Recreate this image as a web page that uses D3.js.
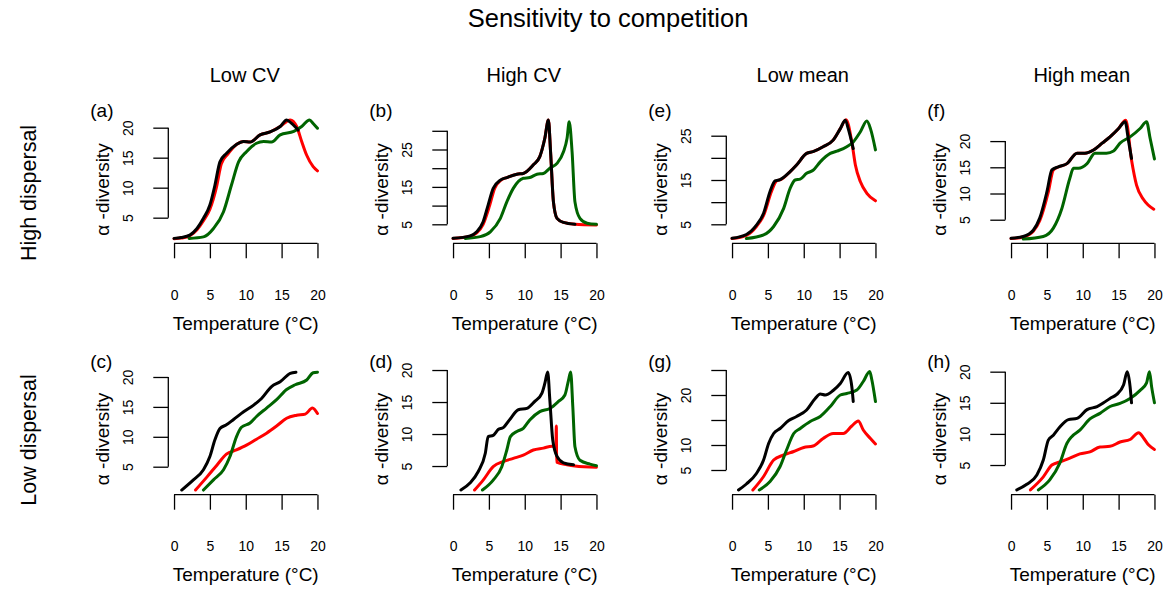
<!DOCTYPE html>
<html><head><meta charset="utf-8">
<script src="https://cdn.jsdelivr.net/npm/d3@7"></script>
<style>
body{margin:0;background:#fff}
svg{display:block}
text{font-family:"Liberation Sans",Arial,Helvetica,sans-serif;fill:#000}
</style>
</head><body>
<svg id="chart" width="1170" height="594"></svg>
<script>
// ---------- DATA (temperature °C, alpha-diversity) ----------
const mainTitle = "Sensitivity to competition";
const columnTitles = ["Low CV", "High CV", "Low mean", "High mean"];
const rowTitles = ["High dispersal", "Low dispersal"];
const xLabel = "Temperature (°C)";
const yLabel = "α -diversity";
const xTicks = [0, 5, 10, 15, 20];
const xLim = [0, 20];

// panel (a) High dispersal, Low CV
const a_red   = [[0,1.5],[1,1.6],[2.2,2.0],[3.2,3.0],[4.1,4.5],[5,6.4],[5.9,10],[6.6,14],[7.5,15.6],[8.7,17.2],[9.7,17.7],[10.6,17.6],[12,18.8],[13.4,19.3],[14.8,20.2],[16.2,21.3],[17.1,20.2],[17.8,17.7],[18.5,15.4],[19.4,13.5],[20,12.8]];
const a_green = [[2.1,1.55],[4.1,1.8],[5.5,3.2],[6.9,6],[8,10.4],[9,14.3],[10.1,16],[11.5,17.4],[12.5,17.7],[13.6,17.6],[14.8,18.8],[16.7,19.4],[17.8,20.2],[18.9,21.3],[19.4,20.7],[20,19.9]];
const a_black = [[0,1.55],[1,1.7],[2.2,2.1],[3.2,3.2],[4.1,4.9],[5,7.1],[5.7,10.4],[6.4,14.3],[7.3,15.7],[8.7,17.2],[9.7,17.7],[10.6,17.6],[12,18.8],[13.4,19.3],[14.8,20.2],[15.7,21.3],[16.4,20.7],[17.3,19.6]];
const a_yLim = [0.73, 22.08];
const a_yTicks = [5, 10, 15, 20];
const a_yLabels = [5, 10, 15, 20];

// panel (b) High dispersal, High CV
const b_red   = [[0,1.2],[2.4,1.8],[3.3,2.7],[4.2,5],[5.1,10],[5.8,14.6],[6.7,16.8],[7.5,17.5],[8.9,18.4],[9.8,18.6],[11.2,20.9],[12.1,23.1],[12.8,28],[13.3,32.9],[13.6,24.4],[14,11],[14.5,6.6],[15.4,5.5],[17,5],[20,4.8]];
const b_green = [[1.7,1.2],[3.8,1.7],[5.2,3],[6.6,6.6],[7.5,11],[8.4,14.6],[9.8,17.3],[10.7,17.5],[11.7,18.4],[12.6,18.6],[13.5,20],[14.5,21.3],[15.4,24.4],[15.9,28],[16.2,32.4],[16.6,24.4],[17,11],[17.7,6.6],[18.7,5.3],[20,5]];
const b_black = [[0,1.25],[2.4,1.9],[3.3,3],[4.2,5.7],[4.9,10.2],[5.6,14.6],[6.6,16.8],[7.5,17.5],[8.9,18.4],[9.8,18.6],[11.2,20.9],[12.1,23.1],[12.8,28],[13.3,32.9],[13.6,24.4],[14,11],[14.5,6.6],[15.4,5.5],[17,5]];
const b_yLim = [-0.08, 34.17];
const b_yTicks = [5, 10, 15, 20, 25, 30];
const b_yLabels = [5, 15, 25];

// panel (c) Low dispersal, Low CV
const c_red   = [[3,1.1],[4.6,3.3],[6,5.3],[7.3,7.1],[8.7,7.8],[10.1,8.6],[11.5,9.6],[12.9,10.6],[14.3,11.8],[15.7,13.1],[17.1,13.6],[18.3,13.8],[19.3,14.8],[20,13.9]];
const c_green = [[4.1,1.1],[5.5,2.8],[6.9,4.5],[7.8,6.7],[8.7,10],[9.4,11.6],[10.6,12.3],[11.5,13.4],[12.9,14.8],[14.3,16.2],[15.7,17.9],[16.9,18.7],[18.5,19.5],[19.4,20.7],[20,20.8]];
const c_black = [[1.07,1.1],[2.7,2.8],[4.1,4.5],[5,6.7],[5.7,9.5],[6.4,11.4],[7.3,12],[8.3,12.9],[9.7,14.2],[11.1,15.3],[12.2,16.4],[13.6,18.4],[14.8,19.2],[16.2,20.6],[17,20.8]];
const c_yLim = [0.32, 21.72];
const c_yTicks = [5, 10, 15, 20];
const c_yLabels = [5, 10, 15, 20];

// panel (d) Low dispersal, High CV
const d_red   = [[3,1.25],[4.2,2.8],[5.6,4.9],[7,5.7],[8.4,6.2],[9.8,6.7],[11.2,7.5],[12.6,7.8],[13.8,8.1],[14.35,8],[14.4,11.25],[14.45,5.6],[15.9,5.2],[17,5.0],[20,4.8]];
const d_green = [[4.1,1.25],[5.6,2.8],[6.8,4.9],[7.5,7.5],[8,9.6],[8.9,10.4],[9.8,10.9],[10.7,12.2],[12.1,13.5],[13.5,14],[14.7,15.1],[15.6,16.1],[16.1,18.4],[16.4,19.7],[16.7,14.3],[17,8],[17.7,5.9],[19.1,5.3],[20,5.05]];
const d_black = [[1.1,1.25],[2.4,2.4],[3.5,4.1],[4.5,7],[4.9,9.6],[5.6,9.8],[6.3,10.7],[7,11],[8,12.4],[9.1,13.8],[10.3,14],[11.4,15.1],[12.4,16.4],[12.8,17.9],[13.2,19.7],[13.5,15.3],[13.9,9.1],[14.5,6.5],[15.4,5.5],[16.8,5.2]];
const d_yLim = [0.52, 20.52];
const d_yTicks = [5, 10, 15, 20];
const d_yLabels = [5, 10, 15, 20];

// panel (e) High dispersal, Low mean
const e_red   = [[0,1.78],[2,2.5],[3.4,4.5],[4.4,7],[5.5,12.4],[6.2,14.8],[6.8,15.1],[8.1,16.9],[9,18.4],[10.4,21],[11.3,21.4],[12.7,22.5],[14.1,24],[15.1,26.6],[15.9,28.6],[16.7,23.6],[17.2,18.4],[17.9,14.6],[18.8,12],[20,10.3]];
const e_green = [[2,1.8],[4.4,2.6],[5.8,4.5],[7.2,8.6],[8.1,13.1],[8.8,15],[9.5,15.2],[10.4,16.5],[11.3,17.2],[12.3,19.1],[13.7,21],[14.6,21.5],[16,22.5],[16.9,23.6],[17.9,25.9],[18.8,28.3],[19.3,26.6],[20,21.8]];
const e_black = [[0,1.85],[2,2.7],[3.4,4.8],[4.4,7.5],[5.3,12.4],[6,14.8],[6.7,15.1],[8.1,16.9],[9,18.4],[10.4,21],[11.3,21.4],[12.7,22.5],[14.1,24],[15.1,26.6],[15.8,28.5],[16.2,26.6],[16.9,22.1]];
const e_yLim = [0.71, 29.63];
const e_yTicks = [5, 10, 15, 20, 25];
const e_yLabels = [5, 15, 25];

// panel (f) High dispersal, High mean
const f_red   = [[0,1.4],[1.7,1.7],[3.1,2.8],[4,4.8],[5.2,10.3],[5.9,14.5],[6.7,15.1],[7.8,15.7],[9.2,17.7],[10.3,17.7],[11.5,18.3],[12.7,19.6],[13.8,20.8],[15,22.4],[16,24],[16.8,16.4],[17.5,11.6],[18.5,8.8],[19.9,7.0]];
const f_green = [[1.7,1.3],[4.5,1.8],[5.9,3.4],[7.1,7.2],[8.2,12.9],[8.7,14.8],[9.4,14.8],[10.6,15.7],[11.7,17.7],[12.7,17.7],[13.3,17.7],[14.3,18.1],[15.2,19.6],[16.6,20.8],[18,22.4],[18.9,23.7],[19.4,20.5],[20,16.6]];
const f_black = [[0,1.45],[1.7,1.8],[3.1,3],[4,5.3],[5,10.3],[5.7,14.5],[6.6,15.1],[7.8,15.7],[9.2,17.7],[10.3,17.7],[11.5,18.3],[12.7,19.6],[13.8,20.8],[15,22.4],[15.9,23.7],[16.4,19.9],[16.8,16.7]];
const f_yLim = [0.5, 24.94];
const f_yTicks = [5, 10, 15, 20];
const f_yLabels = [5, 10, 15, 20];

// panel (g) Low dispersal, Low mean
const g_red   = [[2.9,1],[4.4,3.7],[5.8,7],[7.2,8],[8.6,8.7],[10,9.5],[11.3,9.8],[12.7,11.3],[14.1,12.3],[15.5,12.3],[16.7,13.8],[17.6,14.8],[18.3,13],[19.3,11.3],[20,10.2]];
const g_green = [[3.8,1],[5.3,2.7],[6.7,5.7],[7.6,9],[8.6,12.3],[9.5,13.3],[10.9,14.7],[12.3,15.7],[13.7,17.7],[15.1,20],[16,20.3],[17.4,21],[18.3,22.7],[19.2,24.7],[19.5,23],[20,18.7]];
const g_black = [[0.9,1],[2,2.2],[3.4,4.3],[4.4,7],[5.1,10.3],[5.8,12.3],[6.7,13.3],[7.9,14.9],[9,15.7],[10.4,17],[11.6,19.3],[12.3,20.2],[13,20],[14.1,20.9],[15.1,22.3],[16.2,24.5],[16.7,21.7],[16.9,18.7]];
const g_yLim = [0.06, 25.66];
const g_yTicks = [5, 10, 15, 20, 25];
const g_yLabels = [5, 10, 20];

// panel (h) Low dispersal, High mean
const h_red   = [[2.7,1],[4.5,3.1],[5.7,5],[6.8,5.5],[8.2,6.1],[9.6,6.8],[11,7.1],[12.4,7.9],[13.8,8],[15.2,8.7],[16.6,9.1],[17.8,10.2],[18.5,9.3],[19.2,8.2],[20,7.5]];
const h_green = [[3.8,1],[5.4,2.6],[6.8,5.3],[7.8,8.5],[8.5,9.6],[9.6,10.6],[11,12.4],[12.4,13.3],[13.8,14.4],[15.2,14.9],[16.6,15.7],[18,17],[18.9,18.2],[19.3,20],[19.6,17.6],[20,15]];
const h_black = [[0.8,1],[2.2,1.9],[3.6,3.4],[4.5,5.8],[5.2,9],[5.9,9.8],[6.8,11.1],[8,12.3],[9.2,12.5],[10.6,13.9],[12,14.4],[12.9,15],[13.8,15.7],[14.7,16.3],[15.7,17.9],[16.2,20],[16.6,17.6],[16.8,15]];
const h_yLim = [0.23, 20.8];
const h_yTicks = [5, 10, 15, 20];
const h_yLabels = [5, 10, 15, 20];

// ---------- PANEL TABLE ----------
const panels = [
  {tag:"(a)", row:0, col:0, yLim:a_yLim, yTicks:a_yTicks, yLabels:a_yLabels, red:a_red, green:a_green, black:a_black},
  {tag:"(b)", row:0, col:1, yLim:b_yLim, yTicks:b_yTicks, yLabels:b_yLabels, red:b_red, green:b_green, black:b_black},
  {tag:"(e)", row:0, col:2, yLim:e_yLim, yTicks:e_yTicks, yLabels:e_yLabels, red:e_red, green:e_green, black:e_black},
  {tag:"(f)", row:0, col:3, yLim:f_yLim, yTicks:f_yTicks, yLabels:f_yLabels, red:f_red, green:f_green, black:f_black},
  {tag:"(c)", row:1, col:0, yLim:c_yLim, yTicks:c_yTicks, yLabels:c_yLabels, red:c_red, green:c_green, black:c_black},
  {tag:"(d)", row:1, col:1, yLim:d_yLim, yTicks:d_yTicks, yLabels:d_yLabels, red:d_red, green:d_green, black:d_black},
  {tag:"(g)", row:1, col:2, yLim:g_yLim, yTicks:g_yTicks, yLabels:g_yLabels, red:g_red, green:g_green, black:g_black},
  {tag:"(h)", row:1, col:3, yLim:h_yLim, yTicks:h_yTicks, yLabels:h_yLabels, red:h_red, green:h_green, black:h_black}
];

// ---------- LAYOUT ----------
const colLeft = [168.3, 447.3, 726.3, 1005.3];
const plotW = 154.9;
const rowTop = [115.2, 366.7];
const rowBottom = [243.3, 494.7];
const yTitleY = [189.5, 439];
const seriesColors = {red:"#ff0000", green:"#006400", black:"#000000"};
const tickFont = 14;

const svg = d3.select("#chart");

svg.append("text").attr("x", 608).attr("y", 18).attr("dy","0.35em")
  .attr("text-anchor","middle").attr("font-size", 25.5).text(mainTitle);

columnTitles.forEach((t,i) => {
  svg.append("text").attr("x", colLeft[i] + plotW/2 - 1).attr("y", 75).attr("dy","0.35em")
    .attr("text-anchor","middle").attr("font-size", 20).text(t);
});
const rowTitleY = [193, 440];
rowTitles.forEach((t,i) => {
  svg.append("text").attr("transform", `translate(28,${rowTitleY[i]}) rotate(-90)`).attr("dy","0.35em")
    .attr("text-anchor","middle").attr("font-size", 21.5).text(t);
});

panels.forEach(p => {
  const left = colLeft[p.col];
  const pad = (xLim[1]-xLim[0]) * 0.04;
  const x = d3.scaleLinear().domain([xLim[0]-pad, xLim[1]+pad]).range([left, left + plotW]);
  const y = d3.scaleLinear().domain(p.yLim).range([rowBottom[p.row], rowTop[p.row]]);
  const g = svg.append("g");

  // x axis
  const xa = g.append("g").attr("transform", `translate(0,${rowBottom[p.row]})`)
    .call(d3.axisBottom(x).tickValues(xTicks).tickSize(15).tickFormat(d3.format("d")));
  xa.select(".domain").remove();
  xa.selectAll(".tick line").attr("stroke","#000").attr("stroke-width",1.3);
  xa.selectAll(".tick text").attr("y", 51.7).attr("dy","0.36em")
    .attr("font-size", tickFont).attr("font-family", '"Liberation Sans",Arial,sans-serif').attr("fill","#000");
  xa.append("line").attr("x1", x(xTicks[0])).attr("x2", x(xTicks[xTicks.length-1]))
    .attr("stroke","#000").attr("stroke-width",1.3);

  // y axis
  const ya = g.append("g").attr("transform", `translate(${left},0)`)
    .call(d3.axisLeft(y).tickValues(p.yTicks).tickSize(15)
      .tickFormat(d => p.yLabels.includes(d) ? String(d) : ""));
  ya.select(".domain").remove();
  ya.selectAll(".tick line").attr("stroke","#000").attr("stroke-width",1.3);
  ya.selectAll(".tick text").attr("transform","rotate(-90)").attr("x",0).attr("y",-40)
    .attr("dy","0.36em").attr("text-anchor","middle")
    .attr("font-size", tickFont).attr("font-family", '"Liberation Sans",Arial,sans-serif').attr("fill","#000");
  ya.append("line").attr("y1", y(p.yTicks[0])).attr("y2", y(p.yTicks[p.yTicks.length-1]))
    .attr("stroke","#000").attr("stroke-width",1.3);

  // axis titles
  g.append("text").attr("x", left + plotW/2).attr("y", rowBottom[p.row] + 80).attr("dy","0.35em")
    .attr("text-anchor","middle").attr("font-size", 19).text(xLabel);
  g.append("text").attr("transform", `translate(${left - 65.8},${yTitleY[p.row]}) rotate(-90)`)
    .attr("dy","0.35em").attr("text-anchor","middle").attr("font-size", 19).text(yLabel);

  // panel tag
  g.append("text").attr("x", left - 78).attr("y", rowTop[p.row] - 5).attr("dy","0.35em")
    .attr("font-size", 19).text(p.tag);

  // lines
  const line = d3.line().x(d => x(d[0])).y(d => y(d[1])).curve(d3.curveMonotoneX);
  ["red","green","black"].forEach(k => {
    g.append("path").datum(p[k]).attr("d", line).attr("fill","none")
      .attr("stroke", seriesColors[k]).attr("stroke-width", 3)
      .attr("stroke-linejoin","round").attr("stroke-linecap","round");
  });
});
</script>
</body></html>
